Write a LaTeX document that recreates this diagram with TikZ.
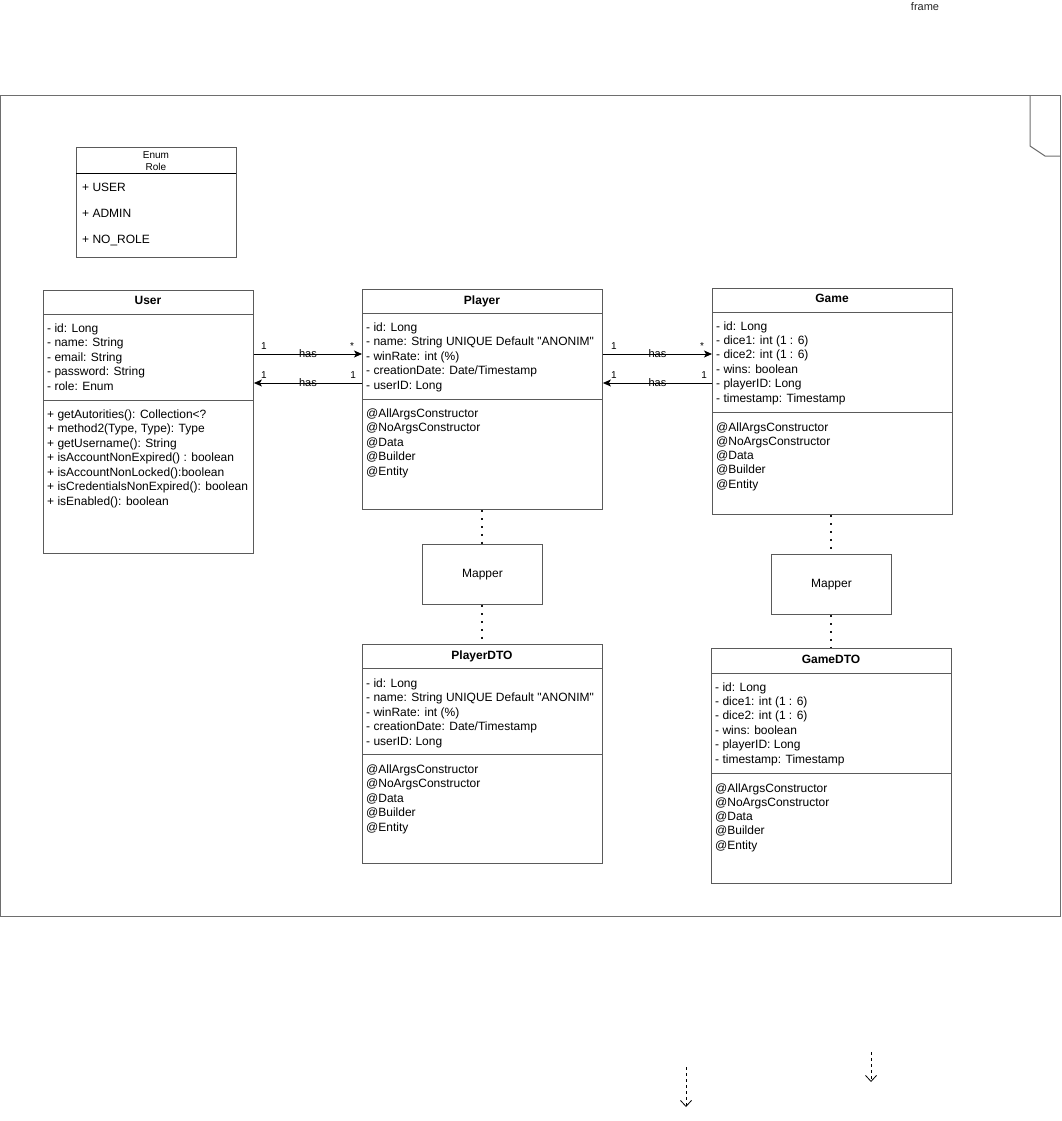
\documentclass[tikz,border=0pt]{standalone}
\usepackage{fontspec}
\setmainfont{Liberation Sans}[Ligatures=TeXOff]
\usepackage{xcolor}
\usetikzlibrary{arrows.meta,positioning}
\definecolor{linegray}{HTML}{5A5A5A}
\definecolor{framegray}{HTML}{6E6E6E}

\begin{document}
\begin{tikzpicture}[x=1pt, y=-1pt,
    box/.style={rectangle, draw=linegray, line width=0.9pt, anchor=north west, inner sep=0pt, font=\fontsize{12}{14}\selectfont},
    ttl/.style={anchor=base, inner sep=0pt, font=\fontsize{12}{14}\selectfont\bfseries},
    member/.style={anchor=base west, inner sep=0pt, font=\fontsize{12}{14}\selectfont},
    sep/.style={draw=linegray, line width=0.9pt},
    assoc/.style={draw=black, line width=0.9pt, -{Stealth[length=8pt,width=7pt,inset=2pt]}},
    lbl/.style={inner sep=0pt, font=\fontsize{10}{12}\selectfont, anchor=base},
    haslbl/.style={midway, inner sep=0pt, font=\fontsize{11}{13}\selectfont},
    mapline/.style={draw=black!90, line width=2pt, dash pattern=on 2pt off 5.8pt, dash phase=-0.5pt},
    dep/.style={line width=0.8pt, dash pattern=on 3pt off 3pt, -{Straight Barb[length=6pt,width=11pt]}}]
    \useasboundingbox (0,0) rectangle (1061,1121);

    % frame
    \node (framelabel) [inner sep=0pt, font=\fontsize{11}{13}\selectfont, text=black!85] at (925,7) {frame};
    \draw [framegray, line width=1pt] (0,96) rectangle (1060,916);
    \draw [framegray, line width=1pt] (1030,96) -- (1030,146) -- (1045,156) -- (1060,156);

    % enum
    \node (role) [box, minimum width=160pt, minimum height=110pt] at (76,147) {};
    \node (roleenum) [lbl, font=\fontsize{10}{12}\selectfont] at (156,158.6) {Enum};
    \node (rolename) [lbl, font=\fontsize{10}{12}\selectfont] at (156,170.6) {Role};
    \draw [black, line width=0.9pt] (76,173) -- (236,173);
    \foreach \t [count=\i from 0] in {+ USER, + ADMIN, + NO\_ROLE}
        \node (role-\i) [member] at (82,191+26*\i) {\t};

    % user
    \node (user) [box, minimum width=210pt, minimum height=263pt] at (43,290) {};
    \node (usertitle) [ttl] at (148,304) {User};
    \draw [sep] (43,314) -- (253,314);
    \draw [sep] (43,400) -- (253,400);
    \foreach \t [count=\i from 0] in {- id: Long, - name: String, - email: String, - password: String, - role: Enum}
        \node (user-a\i) [member] at (47,332+14.5*\i) {\t};
    \foreach \t [count=\i from 0] in {+ getAutorities(): Collection<?, {+ method2(Type, Type): Type}, + getUsername(): String, + isAccountNonExpired() : boolean, + isAccountNonLocked():boolean, + isCredentialsNonExpired(): boolean, + isEnabled(): boolean}
        \node (user-m\i) [member] at (47,418+14.5*\i) {\t};

    % player
    \node (player) [box, minimum width=240pt, minimum height=220pt] at (362,289) {};
    \node (playertitle) [ttl] at (482,304) {Player};
    \draw [sep] (362,313) -- (602,313);
    \draw [sep] (362,399) -- (602,399);
    \foreach \t [count=\i from 0] in {- id: Long, - name: String UNIQUE Default "ANONIM", - winRate: int (\%), - creationDate: Date/Timestamp, - userID: Long}
        \node (player-a\i) [member] at (366,331+14.5*\i) {\t};
    \foreach \t [count=\i from 0] in {@AllArgsConstructor, @NoArgsConstructor, @Data, @Builder, @Entity}
        \node (player-n\i) [member] at (366,417+14.5*\i) {\t};

    % game
    \node (game) [box, minimum width=240pt, minimum height=226pt] at (712,288) {};
    \node (gametitle) [ttl] at (832,302) {Game};
    \draw [sep] (712,312) -- (952,312);
    \draw [sep] (712,412) -- (952,412);
    \foreach \t [count=\i from 0] in {- id: Long, - dice1: int (1 : 6), - dice2: int (1 : 6), - wins: boolean, - playerID: Long, - timestamp: Timestamp}
        \node (game-a\i) [member] at (716,330+14.4*\i) {\t};
    \foreach \t [count=\i from 0] in {@AllArgsConstructor, @NoArgsConstructor, @Data, @Builder, @Entity}
        \node (game-n\i) [member] at (716,431+14.3*\i) {\t};

    % mappers
    \node (mapperp) [box, minimum width=120pt, minimum height=60pt] at (422,544) {Mapper};
    \node (mapperg) [box, minimum width=120pt, minimum height=60pt] at (771,554) {Mapper};

    % player dto
    \node (playerdto) [box, minimum width=240pt, minimum height=219pt] at (362,644) {};
    \node (playerdtotitle) [ttl] at (482,659) {PlayerDTO};
    \draw [sep] (362,668) -- (602,668);
    \draw [sep] (362,754) -- (602,754);
    \foreach \t [count=\i from 0] in {- id: Long, - name: String UNIQUE Default "ANONIM", - winRate: int (\%), - creationDate: Date/Timestamp, - userID: Long}
        \node (playerdto-a\i) [member] at (366,687+14.5*\i) {\t};
    \foreach \t [count=\i from 0] in {@AllArgsConstructor, @NoArgsConstructor, @Data, @Builder, @Entity}
        \node (playerdto-n\i) [member] at (366,773+14.5*\i) {\t};

    % game dto
    \node (gamedto) [box, minimum width=240pt, minimum height=235pt] at (711,648) {};
    \node (gamedtotitle) [ttl] at (831,663) {GameDTO};
    \draw [sep] (711,673) -- (951,673);
    \draw [sep] (711,773) -- (951,773);
    \foreach \t [count=\i from 0] in {- id: Long, - dice1: int (1 : 6), - dice2: int (1 : 6), - wins: boolean, - playerID: Long, - timestamp: Timestamp}
        \node (gamedto-a\i) [member] at (715,691+14.4*\i) {\t};
    \foreach \t [count=\i from 0] in {@AllArgsConstructor, @NoArgsConstructor, @Data, @Builder, @Entity}
        \node (gamedto-n\i) [member] at (715,792+14.3*\i) {\t};

    % associations
    \draw [assoc] ([yshift=-64pt]user.north east) -- ([yshift=-65pt]player.north west)
        node [haslbl] {has}
        node [lbl, pos=0.092, yshift=4.5pt] {1}
        node [lbl, pos=0.908, yshift=4.5pt] {*};
    \draw [assoc] ([yshift=-94pt]player.north west) -- ([yshift=-93pt]user.north east)
        node [haslbl] {has}
        node [lbl, pos=0.083, yshift=5pt] {1}
        node [lbl, pos=0.908, yshift=5pt] {1};
    \draw [assoc] ([yshift=-65pt]player.north east) -- ([yshift=-66pt]game.north west)
        node [haslbl] {has}
        node [lbl, pos=0.1, yshift=4.5pt] {1}
        node [lbl, pos=0.91, yshift=4.5pt] {*};
    \draw [assoc] ([yshift=-95pt]game.north west) -- ([yshift=-94pt]player.north east)
        node [haslbl] {has}
        node [lbl, pos=0.073, yshift=5pt] {1}
        node [lbl, pos=0.9, yshift=5pt] {1};

    % mapper links
    \draw [mapline] (player.south) -- (mapperp.north);
    \draw [mapline] (mapperp.south) -- (playerdto.north);
    \draw [mapline] (game.south -| mapperg.north) -- (mapperg.north);
    \draw [mapline] (mapperg.south) -- (gamedto.north -| mapperg.south);

    % loose dependencies
    \coordinate (depa1) at (686,1067);
    \coordinate (depa2) at (686,1107);
    \coordinate (depb1) at (871,1052);
    \coordinate (depb2) at (871,1082);
    \draw [dep] (depa1) -- (depa2);
    \draw [dep] (depb1) -- (depb2);
\end{tikzpicture}
\end{document}
